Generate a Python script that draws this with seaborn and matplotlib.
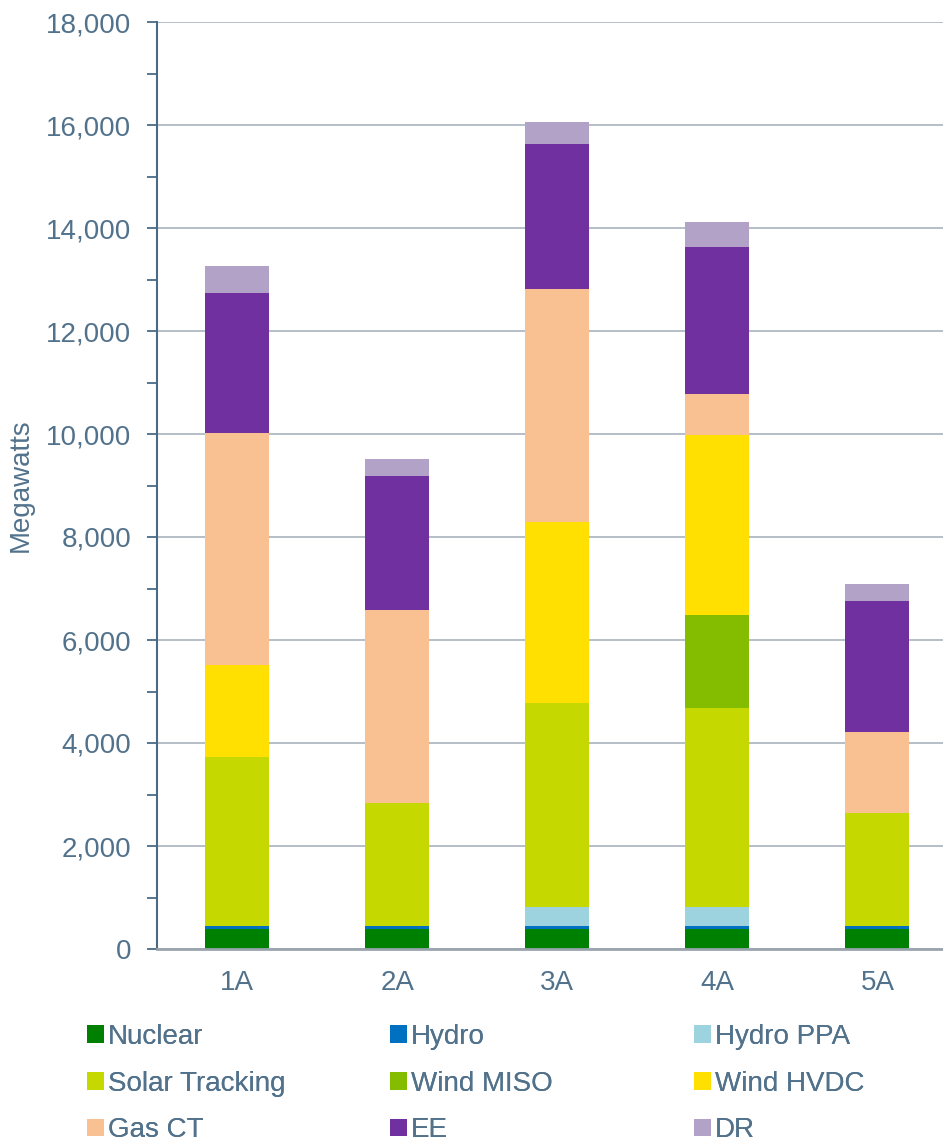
import matplotlib
matplotlib.use("Agg")
import matplotlib.pyplot as plt
import matplotlib.ticker as mticker
from matplotlib.patches import Patch
import numpy as np
import pandas as pd
import seaborn as sns

categories = ["1A", "2A", "3A", "4A", "5A"]
nuclear = [380, 380, 380, 380, 380]
hydro = [70, 70, 70, 70, 70]
hydro_ppa = [0, 0, 360, 360, 0]
solar_tracking = [3280, 2385, 3960, 3865, 2190]
wind_miso = [0, 0, 0, 1805, 0]
wind_hvdc = [1785, 0, 3515, 3495, 0]
gas_ct = [4505, 3750, 4525, 795, 1575]
ee = [2720, 2600, 2815, 2855, 2545]
dr = [525, 330, 425, 485, 330]

series_names = ["Nuclear", "Hydro", "Hydro PPA", "Solar Tracking", "Wind MISO",
                "Wind HVDC", "Gas CT", "EE", "DR"]
series_values = [nuclear, hydro, hydro_ppa, solar_tracking, wind_miso,
                 wind_hvdc, gas_ct, ee, dr]
colors = ["#008000", "#0070C0", "#9DD3DF", "#C5D900", "#84BD00",
          "#FFE000", "#F9C091", "#7030A0", "#B3A2C7"]

text_color = "#52728C"

sns.set_theme(style="white")
plt.rcParams["font.family"] = ["Liberation Sans", "DejaVu Sans"]

W, H = 943, 1142
fig = plt.figure(figsize=(W / 100, H / 100), dpi=100)
ax = fig.add_axes([157 / W, (H - 949) / H, (W - 157) / W, (949 - 22) / H])

bottom = np.zeros(len(categories))
for name, vals, col in zip(series_names, series_values, colors):
    df = pd.DataFrame({"cat": categories, "val": vals})
    sns.barplot(data=df, x="cat", y="val", order=categories, color=col,
                bottom=bottom, width=0.4, ax=ax, saturation=1, errorbar=None,
                linewidth=0)
    bottom = bottom + np.array(vals)

ax.set_ylim(0, 18000)
ax.set_xlim(-0.5, 4.41)
ax.yaxis.set_major_locator(mticker.MultipleLocator(2000))
ax.yaxis.set_minor_locator(mticker.MultipleLocator(1000))
ax.yaxis.set_major_formatter(mticker.FuncFormatter(lambda v, p: f"{int(v):,}"))
ax.grid(axis="y", which="major", color="#A9B4BE", linewidth=1.2)
ax.set_axisbelow(True)

for s in ["top", "right"]:
    ax.spines[s].set_visible(False)
ax.spines["left"].set_color("#4A6B85")
ax.spines["left"].set_linewidth(1.5)
ax.spines["bottom"].set_color("#9AA4AE")
ax.spines["bottom"].set_linewidth(2)

ax.tick_params(axis="y", which="major", direction="out", length=7, width=1.3,
               color="#4A6B85", labelsize=20, labelcolor=text_color, pad=11.5, left=True)
ax.tick_params(axis="y", which="minor", direction="out", length=7, width=1.3,
               color="#4A6B85", left=True)
ax.tick_params(axis="x", length=0, labelsize=20, labelcolor=text_color, pad=15)

ax.set_xlabel("")
ax.set_ylabel("Megawatts", fontsize=20, color=text_color)
ax.yaxis.set_label_coords((34 - 157) / (W - 157), 0.5)

handles = [Patch(facecolor=c, edgecolor="none") for c in colors]
col_x = [87, 390, 694]
top_y = 1024
for ci in range(3):
    idx = [ci, ci + 3, ci + 6]
    leg = fig.legend([handles[i] for i in idx], [series_names[i] for i in idx],
                     ncol=1, loc="upper left",
                     bbox_to_anchor=(col_x[ci] / W, (H - top_y) / H),
                     frameon=False, fontsize=20, handlelength=0.6, handleheight=0.6,
                     handletextpad=0.15, labelspacing=0.74,
                     borderpad=0, borderaxespad=0)
    for t in leg.get_texts():
        t.set_color(text_color)
    fig.add_artist(leg)

fig.savefig("out.png", dpi=100)
